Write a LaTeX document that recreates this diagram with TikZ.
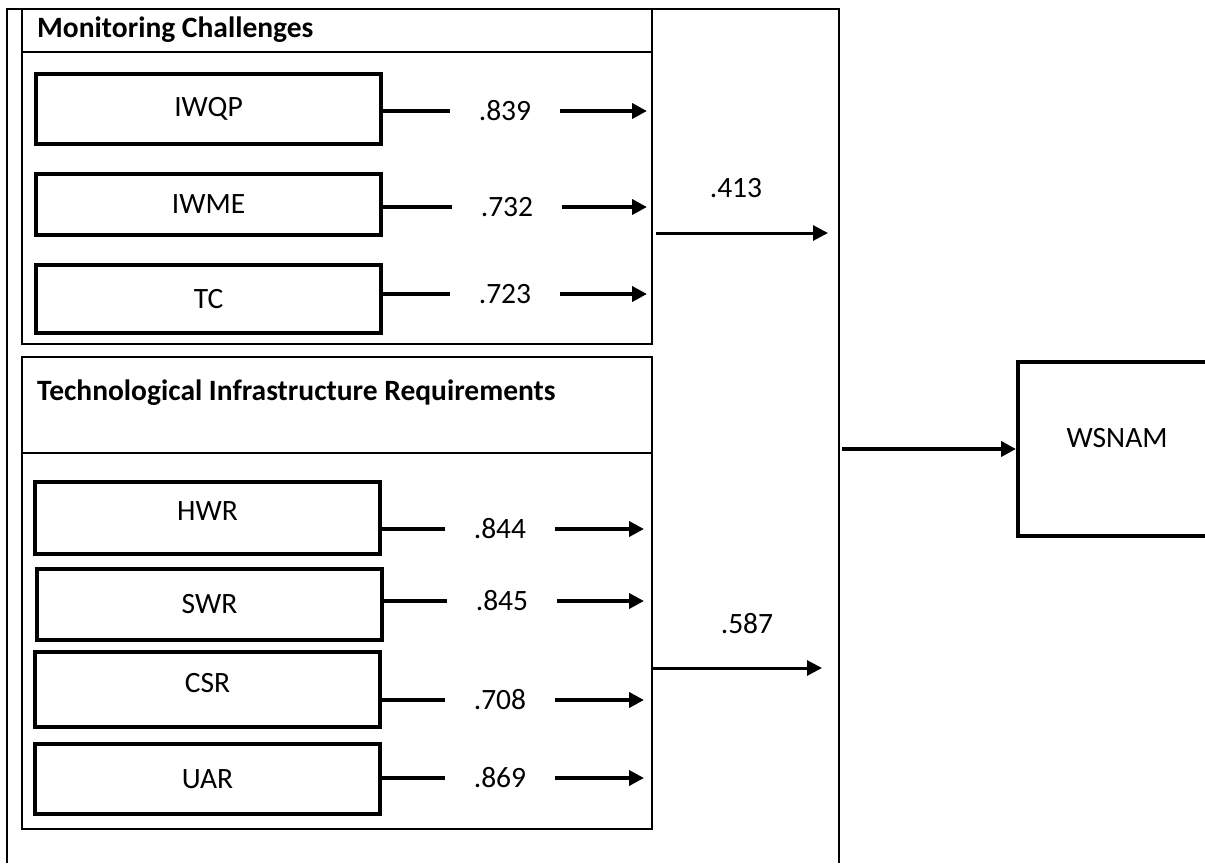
\documentclass[tikz,border=0pt]{standalone}
\usepackage{fontspec}
\setmainfont{Carlito}
\usetikzlibrary{arrows.meta}
\newcommand{\figfont}{\fontsize{29.5}{35}\selectfont}

\begin{document}
\begin{tikzpicture}[x=1pt,y=-1pt,
    every node/.style={font=\figfont},
    frame/.style={line width=2pt},
    elem/.style={draw, line width=3.5pt, minimum width=345pt, inner sep=0pt},
    val/.style={inner sep=0pt, minimum width=110pt},
    conn/.style={line width=4pt},
    arr/.style={line width=4pt, -{Triangle[length=15pt,width=15pt]}},
    bigarr/.style={line width=3pt, -{Triangle[length=15pt,width=15pt]}}]
\useasboundingbox (0,0) rectangle (1205,863);
\clip (0,0) rectangle (1205,863);
\draw[frame] (7,863) -- (7,9) -- (839,9) -- (839,863);
\draw[frame] (22,9) rectangle (652,344);
\draw[frame] (22,52) -- (652,52);
\draw[frame] (22,357) rectangle (652,829);
\draw[frame] (22,453) -- (652,453);
\node[anchor=base west, inner sep=0pt, font=\figfont\bfseries] (mct) at (37,37) {Monitoring Challenges};
\node[anchor=base west, inner sep=0pt, font=\figfont\bfseries] (tirt) at (37,400) {Technological Infrastructure Requirements};
\coordinate (mcR) at (647,0);
\coordinate (tirR) at (644,0);

\node[elem, minimum height=70pt] (iwqp) at (208.5,109) {IWQP};
\node[elem, minimum height=61pt] (iwme) at (208.5,204.5) {IWME};
\node[elem, minimum height=68pt] (tc) at (208.5,299) {TC};
\node[val] (v1) at (505,111) {.839};
\node[val] (v2) at (507,207) {.732};
\node[val] (v3) at (505,294) {.723};
\draw[conn] (iwqp.east |- v1) -- (v1.west);
\draw[conn] (iwme.east |- v2) -- (v2.west);
\draw[conn] (tc.east |- v3) -- (v3.west);
\draw[arr] (v1.east) -- (v1 -| mcR);
\draw[arr] (v2.east) -- (v2 -| mcR);
\draw[arr] (v3.east) -- (v3 -| mcR);

\node[elem, minimum height=72pt, text depth=14pt] (hwr) at (207.5,518) {HWR};
\node[elem, minimum height=71pt] (swr) at (209.5,604.5) {SWR};
\node[elem, minimum height=75pt, text depth=13pt] (csr) at (207.5,689.5) {CSR};
\node[elem, minimum height=70pt] (uar) at (207.5,779) {UAR};
\node[val] (v4) at (500,529) {.844};
\node[val] (v5) at (502,601) {.845};
\node[val] (v6) at (500,700) {.708};
\node[val] (v7) at (500,778) {.869};
\draw[conn] (hwr.east |- v4) -- (v4.west);
\draw[conn] (swr.east |- v5) -- (v5.west);
\draw[conn] (csr.east |- v6) -- (v6.west);
\draw[conn] (uar.east |- v7) -- (v7.west);
\draw[arr] (v4.east) -- (v4 -| tirR);
\draw[arr] (v5.east) -- (v5 -| tirR);
\draw[arr] (v6.east) -- (v6 -| tirR);
\draw[arr] (v7.east) -- (v7 -| tirR);

\coordinate (a) at (656,233);
\coordinate (b) at (828,233);
\draw[bigarr] (a) -- (b);
\node (p1) at (736,188) {.413};
\coordinate (c) at (651,668);
\coordinate (d) at (822,668);
\draw[bigarr] (c) -- (d);
\node (p2) at (747,624) {.587};

\node[draw, line width=4pt, minimum width=198pt, minimum height=174pt, text depth=22pt] (w) at (1117,449) {WSNAM};
\coordinate (s) at (842,449);
\draw[arr] (s) -- (w.west);
\end{tikzpicture}
\end{document}
